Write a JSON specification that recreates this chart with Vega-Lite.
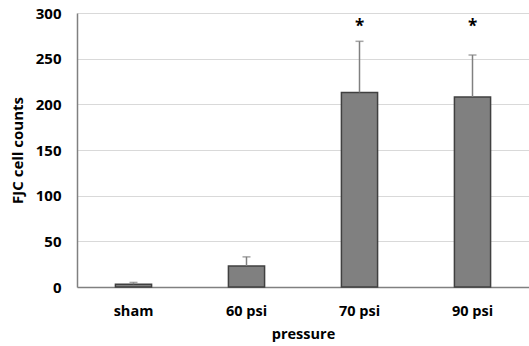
{
  "$schema": "https://vega.github.io/schema/vega-lite/v6.json",
  "width": 452,
  "height": 274,
  "autosize": {"type": "none"},
  "padding": {"left": 77, "top": 13, "right": 0, "bottom": 59},
  "background": "white",
  "config": {
    "view": {"stroke": null},
    "font": "Open Sans",
    "axis": {"labelFont": "Open Sans", "titleFont": "Open Sans"}
  },
  "data": {
    "values": [
      {"group": "sham", "value": 3, "upper": 5, "sig": ""},
      {"group": "60 psi", "value": 23, "upper": 33, "sig": ""},
      {"group": "70 psi", "value": 213, "upper": 269, "sig": "*"},
      {"group": "90 psi", "value": 208, "upper": 254, "sig": "*"}
    ]
  },
  "encoding": {
    "x": {
      "field": "group",
      "type": "nominal",
      "sort": null,
      "scale": {"paddingInner": 0.68, "paddingOuter": 0.34},
      "axis": {
        "title": "pressure",
        "labelAngle": 0,
        "labelFontWeight": "bold",
        "labelFontSize": 14.5,
        "labelColor": "#000",
        "labelPadding": 17,
        "titleFontWeight": "bold",
        "titleFontSize": 14.5,
        "titleColor": "#000",
        "titlePadding": 10,
        "ticks": false,
        "domainColor": "#808080",
        "domainWidth": 1.5
      }
    }
  },
  "layer": [
    {
      "mark": {"type": "bar", "fill": "#808080", "stroke": "#404040", "strokeWidth": 1.5},
      "encoding": {
        "y": {
          "field": "value",
          "type": "quantitative",
          "scale": {"domain": [0, 300]},
          "axis": {
            "title": "FJC cell counts",
            "values": [0, 50, 100, 150, 200, 250, 300],
            "labelFontWeight": "bold",
            "labelFontSize": 15,
            "labelColor": "#000",
            "labelPadding": 16,
            "titleFontWeight": "bold",
            "titleFontSize": 15,
            "titleColor": "#000",
            "titlePadding": 10,
            "ticks": false,
            "domainColor": "#808080",
            "domainWidth": 1.5,
            "gridColor": "#d9d9d9",
            "gridWidth": 1
          }
        }
      }
    },
    {
      "mark": {"type": "rule", "color": "#808080", "strokeWidth": 1.5},
      "encoding": {
        "y": {"field": "value", "type": "quantitative"},
        "y2": {"field": "upper"}
      }
    },
    {
      "mark": {"type": "tick", "color": "#808080", "thickness": 1.5, "size": 8},
      "encoding": {
        "y": {"field": "upper", "type": "quantitative"}
      }
    },
    {
      "mark": {"type": "text", "fontSize": 17, "fontWeight": "bold", "color": "#000", "baseline": "middle", "dy": 5},
      "encoding": {
        "y": {"datum": 290, "type": "quantitative"},
        "text": {"field": "sig"}
      }
    }
  ]
}
